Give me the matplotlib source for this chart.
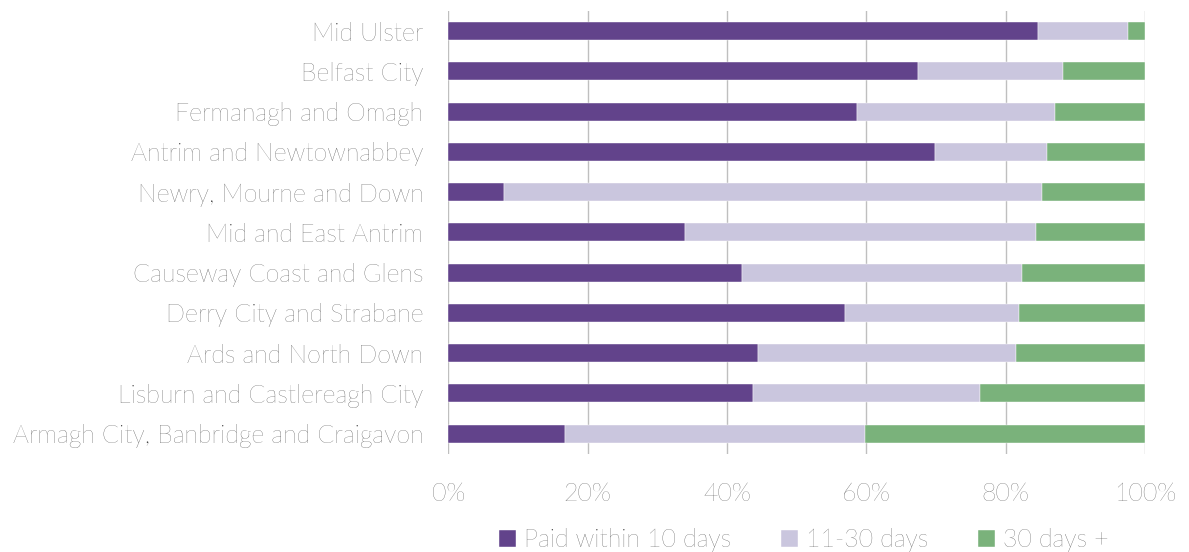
import matplotlib
matplotlib.use("Agg")
import matplotlib.pyplot as plt
import numpy as np

# councils, top to bottom
councils = ["Mid Ulster", "Belfast City", "Fermanagh and Omagh",
            "Antrim and Newtownabbey", "Newry, Mourne and Down",
            "Mid and East Antrim", "Causeway Coast and Glens",
            "Derry City and Strabane", "Ards and North Down",
            "Lisburn and Castlereagh City",
            "Armagh City, Banbridge and Craigavon"]

# percentages of invoices
paid_10 = [84.6, 67.4, 58.6, 69.9, 8.0, 34.0, 42.1, 56.9, 44.5, 43.8, 16.8]
paid_11_30 = [13.0, 20.9, 28.5, 16.0, 77.2, 50.3, 40.2, 25.0, 37.0, 32.5, 43.0]
paid_30 = [2.4, 11.7, 12.9, 14.1, 14.8, 15.7, 17.7, 18.1, 18.5, 23.7, 40.2]

series = ["Paid within 10 days", "11-30 days", "30 days +"]
colors = ["#62438b", "#cac6de", "#7ab27b"]
text_col = "#3a3a3a"

plt.rcParams['font.family'] = ['Lato', 'DejaVu Sans']

fig = plt.figure(figsize=(11.89, 5.52), dpi=100)
ax = fig.add_axes([0.377, 0.178, 0.586, 0.802])

y = np.arange(len(councils))
left = np.zeros(len(councils))
for vals, lab, c in zip([paid_10, paid_11_30, paid_30], series, colors):
    ax.barh(y, vals, left=left, height=0.45, color=c, label=lab,
            edgecolor="white", linewidth=0.3, zorder=3)
    left += np.array(vals)

ax.set_xlim(0, 100)
ax.set_ylim(len(councils) - 0.5, -0.5)
ax.set_yticks(y)
ax.set_yticklabels(councils, fontsize=18, color=text_col, fontweight="light")
ax.set_xticks(np.arange(0, 101, 20))
ax.set_xticklabels([f"{v}%" for v in range(0, 101, 20)], fontsize=18,
                   color=text_col, fontweight="light")
ax.tick_params(length=0)
ax.tick_params(axis="y", pad=18)
ax.tick_params(axis="x", pad=20)
ax.grid(axis="x", color="#bfbfbf", linewidth=1, zorder=0)
for s in ax.spines.values():
    s.set_visible(False)

leg = ax.legend(loc="upper center", bbox_to_anchor=(0.51, -0.117), ncol=3,
                frameon=False, handlelength=0.7, handleheight=0.7,
                handletextpad=0.3, columnspacing=2.0,
                prop={"size": 18, "weight": "light"})
for t in leg.get_texts():
    t.set_color(text_col)

fig.savefig("out.png", dpi=100)
